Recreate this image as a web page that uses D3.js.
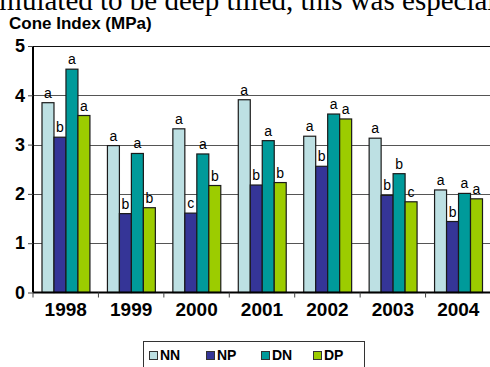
<!DOCTYPE html>
<html>
<head>
<meta charset="utf-8">
<script src="https://cdn.jsdelivr.net/npm/d3@7"></script>
<style>
  html, body { margin: 0; padding: 0; background: #fff; }
  svg { display: block; }
</style>
</head>
<body>
<script>
// Cone index by year and treatment
const years = ["1998", "1999", "2000", "2001", "2002", "2003", "2004"];
const seriesNames = ["NN", "NP", "DN", "DP"];
const NN = [3.85, 2.98, 3.32, 3.91, 3.17, 3.13, 2.08];
const NP = [3.15, 1.60, 1.61, 2.18, 2.56, 1.97, 1.44];
const DN = [4.53, 2.82, 2.81, 3.08, 3.62, 2.41, 2.01];
const DP = [3.59, 1.72, 2.17, 2.23, 3.52, 1.84, 1.90];
// significance letters per bar
const lettersNN = ["a", "a", "a", "a", "a", "a", "a"];
const lettersNP = ["b", "b", "c", "b", "b", "b", "b"];
const lettersDN = ["a", "a", "a", "a", "a", "b", "a"];
const lettersDP = ["a", "b", "b", "b", "a", "c", "a"];
const yTicks = [0, 1, 2, 3, 4, 5];
const colors = ["#bde0e3", "#353597", "#009a9a", "#9ccc00"];

const values = [NN, NP, DN, DP];
const letters = [lettersNN, lettersNP, lettersDN, lettersDP];

const W = 490, H = 367;
const svg = d3.select("body").append("svg").attr("width", W).attr("height", H);

// running text of the surrounding page, cut at the top edge
svg.append("text")
  .attr("x", -20).attr("y", 10)
  .attr("font-family", "'Liberation Serif', 'Times New Roman', serif")
  .attr("font-size", 29)
  .attr("fill", "#000")
  .text("simulated to be deep tilled, this was especially");

const plotLeft = 33, plotRight = 491, plotTop = 46, plotBottom = 292.5;

const x0 = d3.scaleBand().domain(years).range([plotLeft, plotRight]);
const x1 = d3.scaleBand().domain(seriesNames).range([9, x0.bandwidth() - 8.5]);
const y = d3.scaleLinear().domain([0, 5]).range([plotBottom, plotTop]);

// title
svg.append("text")
  .attr("x", 9).attr("y", 29)
  .attr("font-family", "'Liberation Sans', Arial, sans-serif")
  .attr("font-weight", "bold").attr("font-size", 17)
  .text("Cone Index (MPa)");

// gridlines
svg.append("g").selectAll("line")
  .data(yTicks.filter(t => t > 0))
  .join("line")
  .attr("x1", plotLeft).attr("x2", W)
  .attr("y1", d => Math.round(y(d)) + 0.5).attr("y2", d => Math.round(y(d)) + 0.5)
  .attr("stroke", d => d === 5 ? "#111" : "#555").attr("stroke-width", 1);

// bars
const groups = svg.append("g").selectAll("g")
  .data(years)
  .join("g")
  .attr("transform", d => `translate(${x0(d)},0)`);

groups.selectAll("rect")
  .data((d, i) => seriesNames.map((s, k) => ({ s, k, v: values[k][i] })))
  .join("rect")
  .attr("x", d => x1(d.s))
  .attr("y", d => y(d.v))
  .attr("width", x1.bandwidth())
  .attr("height", d => plotBottom - y(d.v))
  .attr("fill", d => colors[d.k])
  .attr("stroke", "#1a1a1a").attr("stroke-width", 1.2);

groups.selectAll("text")
  .data((d, i) => seriesNames.map((s, k) => ({ s, k, v: values[k][i], t: letters[k][i] })))
  .join("text")
  .attr("x", d => x1(d.s) + x1.bandwidth() / 2)
  .attr("y", d => y(d.v) - 5)
  .attr("text-anchor", "middle")
  .attr("font-family", "'Liberation Sans', Arial, sans-serif")
  .attr("font-size", 14)
  .text(d => d.t);

// y axis
const yAxis = svg.append("g")
  .attr("transform", `translate(${plotLeft},0)`)
  .call(d3.axisLeft(y).tickValues(yTicks).tickFormat(d3.format("d")).tickSize(5).tickPadding(3));
yAxis.select(".domain").attr("stroke", "#000").attr("stroke-width", 2).attr("d", `M0,${plotTop}V${plotBottom}`);
yAxis.selectAll(".tick line").attr("stroke", "#444");
yAxis.selectAll(".tick text")
  .attr("font-family", "'Liberation Sans', Arial, sans-serif")
  .attr("font-weight", "bold").attr("font-size", 18).attr("fill", "#000");

// x axis
const xAxis = svg.append("g")
  .attr("transform", `translate(0,${plotBottom})`)
  .call(d3.axisBottom(x0).tickSize(0).tickPadding(10));
xAxis.select(".domain").attr("stroke", "#000").attr("stroke-width", 2).attr("d", `M${plotLeft},0H${W}`);
xAxis.selectAll(".tick text")
  .attr("font-family", "'Liberation Sans', Arial, sans-serif")
  .attr("font-weight", "bold").attr("font-size", 19).attr("fill", "#000");
// category separators below the baseline
svg.append("g").selectAll("line")
  .data(years)
  .join("line")
  .attr("x1", d => x0(d)).attr("x2", d => x0(d))
  .attr("y1", plotBottom).attr("y2", plotBottom + 5)
  .attr("stroke", "#444");

// legend
const lg = svg.append("g");
lg.append("rect")
  .attr("x", 143.5).attr("y", 341.5).attr("width", 221).attr("height", 30)
  .attr("fill", "#fff").attr("stroke", "#333");
const legendX = [149, 206, 261, 313];
seriesNames.forEach((s, k) => {
  lg.append("rect")
    .attr("x", legendX[k] + 0.5).attr("y", 351.5).attr("width", 8).attr("height", 8)
    .attr("fill", colors[k]).attr("stroke", "#333");
  lg.append("text")
    .attr("x", legendX[k] + 11).attr("y", 360)
    .attr("font-family", "'Liberation Sans', Arial, sans-serif")
    .attr("font-weight", "bold").attr("font-size", 14)
    .text(s);
});
</script>
</body>
</html>
